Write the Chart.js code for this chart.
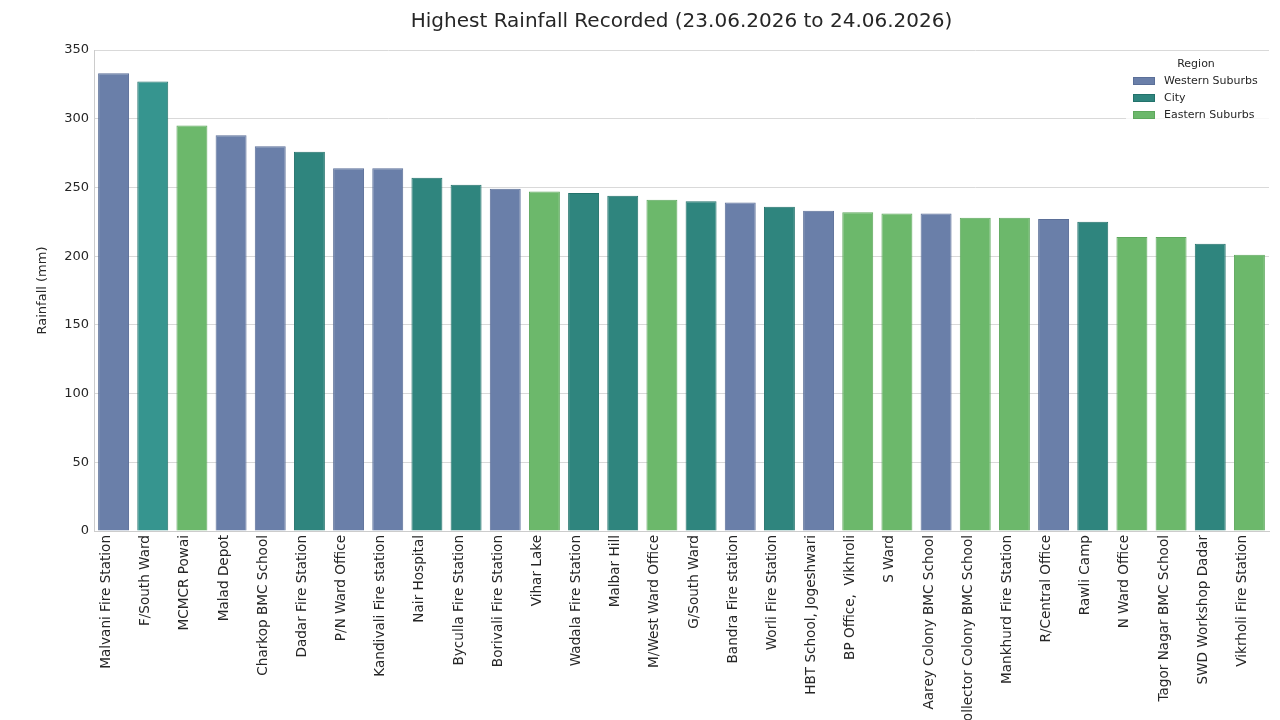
<!DOCTYPE html>
<html>
<head>
<meta charset="utf-8">
<script src="https://cdn.jsdelivr.net/npm/chart.js@4"></script>
<style>
html,body{margin:0;padding:0;background:#fff;}
#wrap{width:1280px;height:720px;}
</style>
</head>
<body>
<div id="wrap"><canvas id="c" width="1280" height="720"></canvas></div>
<script>
const stations = ["Malvani Fire Station","F/South Ward","MCMCR Powai","Malad Depot","Charkop BMC School","Dadar Fire Station","P/N Ward Office","Kandivali Fire station","Nair Hospital","Byculla Fire Station","Borivali Fire Station","Vihar Lake","Wadala Fire Station","Malbar Hill","M/West Ward Office","G/South Ward","Bandra Fire station","Worli Fire Station","HBT School, Jogeshwari","BP Office,  Vikhroli","S Ward","Aarey Colony BMC School","Collector Colony BMC School","Mankhurd Fire Station","R/Central Office","Rawli Camp","N Ward Office","Tagor Nagar BMC School","SWD Workshop Dadar","Vikrholi Fire Station"];
const rainfall = [333,327,295,288,280,276,264,264,257,252,249,247,246,244,241,240,239,236,233,232,231,231,228,228,227,225,214,214,209,201];
const regionOf = ["Western Suburbs","City","Eastern Suburbs","Western Suburbs","Western Suburbs","City","Western Suburbs","Western Suburbs","City","City","Western Suburbs","Eastern Suburbs","City","City","Eastern Suburbs","City","Western Suburbs","City","Western Suburbs","Eastern Suburbs","Eastern Suburbs","Western Suburbs","Eastern Suburbs","Eastern Suburbs","Western Suburbs","City","Eastern Suburbs","Eastern Suburbs","City","Eastern Suburbs"];
const regions = ["Western Suburbs","City","Eastern Suburbs"];
const yTicks = [0,50,100,150,200,250,300,350];

const fill = {"Western Suburbs":"#6a7fa9","City":"#2f857e","Eastern Suburbs":"#6cb86b"};
const edge = {"Western Suburbs":"#5b6f98","City":"#23726b","Eastern Suburbs":"#5ea85d"};

const datasets = regions.map(r => ({
  label: r,
  data: rainfall.map((v,i) => regionOf[i] === r ? v : null),
  backgroundColor: stations.map((s,i) => (r === "City" && i === 1) ? "#36958f" : fill[r]),
  borderColor: edge[r],
  borderWidth: 1,
  grouped: false,
  barPercentage: 0.79,
  categoryPercentage: 1.0
}));

const legendPlugin = {
  id: 'legendInside',
  afterDraw(chart) {
    const ctx = chart.ctx;
    ctx.save();
    ctx.fillStyle = 'rgba(255,255,255,0.8)';
    ctx.fillRect(1126, 53, 148, 72);
    ctx.font = '11px "DejaVu Sans"';
    ctx.fillStyle = '#262626';
    ctx.textAlign = 'center';
    ctx.textBaseline = 'middle';
    ctx.fillText('Region', 1196, 64);
    ctx.textAlign = 'left';
    regions.forEach((r, k) => {
      const y = 81 + k * 17;
      ctx.fillStyle = fill[r];
      ctx.fillRect(1133, y - 4, 22, 8);
      ctx.strokeStyle = edge[r];
      ctx.lineWidth = 1;
      ctx.strokeRect(1133.5, y - 3.5, 21, 7);
      ctx.fillStyle = '#262626';
      ctx.fillText(r, 1164, y);
    });
    ctx.restore();
  }
};

new Chart(document.getElementById('c'), {
  type: 'bar',
  data: { labels: stations, datasets },
  options: {
    responsive: false,
    animation: false,
    layout: { padding: { left: 0, right: 11, top: 0, bottom: 0 } },
    plugins: {
      legend: { display: false },
      tooltip: { enabled: false },
      title: {
        display: true,
        text: 'Highest Rainfall Recorded (23.06.2026 to 24.06.2026)',
        fullSize: false,
        color: '#262626',
        font: { family: '"DejaVu Sans"', size: 20, weight: 'normal' },
        padding: { top: 10, bottom: 16 }
      }
    },
    scales: {
      x: {
        grid: { display: false, drawTicks: false },
        border: { display: true, color: '#cccccc', width: 1 },
        ticks: {
          autoSkip: false,
          maxRotation: 90,
          minRotation: 90,
          padding: 4,
          labelOffset: -7,
          color: '#262626',
          font: { family: '"DejaVu Sans"', size: 13.6 }
        },
        afterFit(scale) { scale.height = 189; }
      },
      y: {
        min: 0,
        max: 350,
        afterBuildTicks(scale) { scale.ticks = yTicks.map(v => ({ value: v })); },
        grid: { color: '#d9d9d9', drawTicks: false, lineWidth: 1 },
        border: { display: true, color: '#cccccc' },
        ticks: {
          padding: 5,
          color: '#262626',
          font: { family: '"DejaVu Sans"', size: 13 }
        },
        title: {
          display: true,
          text: 'Rainfall (mm)',
          color: '#262626',
          font: { family: '"DejaVu Sans"', size: 13 },
          padding: { top: 35, bottom: 4 }
        },
        afterFit(scale) { scale.width = 94; }
      }
    }
  },
  plugins: [legendPlugin]
});
</script>
</body>
</html>
